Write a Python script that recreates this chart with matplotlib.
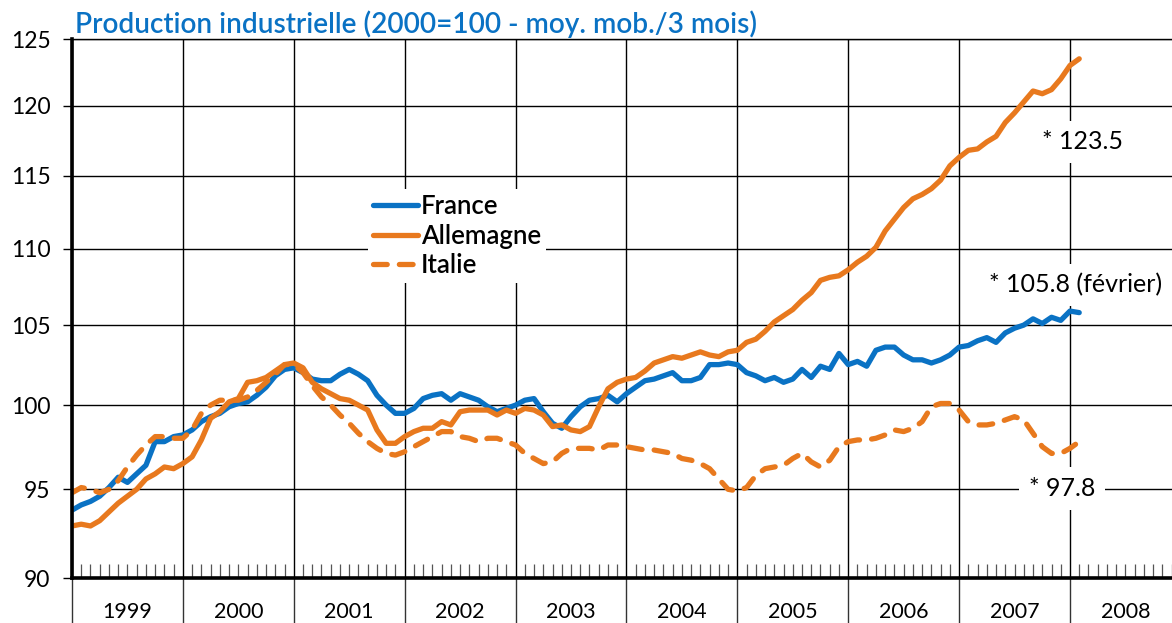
#import libraries
import numpy as np
import matplotlib.pyplot as plt
import matplotlib.transforms as mtransforms
from matplotlib.ticker import FixedLocator, NullLocator, FixedFormatter

plt.rcParams['font.family'] = ['Lato', 'DejaVu Sans']

#monthly data, jan 1999 -> feb 2008 (3 month moving average, 2000=100)
france = [93.8, 94.1, 94.3, 94.6, 95.1, 95.7, 95.4, 95.9, 96.4, 97.8, 97.8, 98.1,
          98.2, 98.5, 99.0, 99.3, 99.5, 99.9, 100.1, 100.2, 100.6, 101.1, 101.8, 102.2,
          102.3, 102.0, 101.6, 101.5, 101.5, 101.9, 102.2, 101.9, 101.5, 100.6, 100.0, 99.5,
          99.5, 99.8, 100.4, 100.6, 100.7, 100.3, 100.7, 100.5, 100.3, 99.9, 99.6, 99.8,
          100.0, 100.3, 100.4, 99.6, 98.9, 98.6, 99.3, 99.9, 100.3, 100.4, 100.6, 100.2,
          100.7, 101.1, 101.5, 101.6, 101.8, 102.0, 101.5, 101.5, 101.7, 102.5, 102.5, 102.6,
          102.5, 102.0, 101.8, 101.5, 101.7, 101.4, 101.6, 102.2, 101.7, 102.4, 102.2, 103.2,
          102.5, 102.7, 102.4, 103.4, 103.6, 103.6, 103.1, 102.8, 102.8, 102.6, 102.8, 103.1,
          103.6, 103.7, 104.0, 104.2, 103.9, 104.5, 104.8, 105.0, 105.4, 105.1, 105.5, 105.3,
          105.9, 105.8]

allemagne = [92.9, 93.0, 92.9, 93.2, 93.7, 94.2, 94.6, 95.0, 95.6, 95.9, 96.3, 96.2,
             96.5, 96.9, 97.9, 99.2, 99.6, 100.2, 100.4, 101.4, 101.5, 101.7, 102.1, 102.5,
             102.6, 102.3, 101.4, 101.0, 100.7, 100.4, 100.3, 100.0, 99.7, 98.5, 97.7, 97.7,
             98.1, 98.4, 98.6, 98.6, 99.0, 98.8, 99.6, 99.7, 99.7, 99.7, 99.4, 99.7,
             99.5, 99.8, 99.7, 99.4, 98.7, 98.8, 98.5, 98.4, 98.7, 99.9, 101.0, 101.4,
             101.6, 101.7, 102.1, 102.6, 102.8, 103.0, 102.9, 103.1, 103.3, 103.1, 103.0, 103.3,
             103.4, 103.9, 104.1, 104.6, 105.2, 105.6, 106.0, 106.6, 107.1, 107.9, 108.1, 108.2,
             108.6, 109.1, 109.5, 110.1, 111.2, 112.0, 112.8, 113.4, 113.7, 114.1, 114.7, 115.7,
             116.3, 116.8, 116.9, 117.4, 117.8, 118.8, 119.5, 120.3, 121.1, 120.9, 121.2, 122.0,
             123.0, 123.5]

italie = [94.8, 95.1, 95.0, 94.8, 95.0, 95.5, 96.3, 97.0, 97.6, 98.1, 98.1, 98.0,
          98.0, 98.5, 99.5, 100.0, 100.3, 100.3, 100.3, 100.5, 100.9, 101.4, 101.9, 102.5,
          102.5, 102.0, 101.2, 100.5, 100.0, 99.4, 98.9, 98.3, 97.8, 97.4, 97.1, 97.0,
          97.2, 97.5, 97.8, 98.1, 98.4, 98.4, 98.1, 98.0, 97.8, 98.0, 98.0, 97.8,
          97.6, 97.1, 96.8, 96.5, 96.6, 97.1, 97.4, 97.4, 97.4, 97.3, 97.6, 97.6,
          97.5, 97.4, 97.3, 97.3, 97.2, 97.1, 96.8, 96.7, 96.5, 96.2, 95.6, 95.0,
          94.9, 95.1, 95.8, 96.2, 96.3, 96.4, 96.8, 97.1, 96.6, 96.3, 96.7, 97.5,
          97.8, 97.9, 97.9, 98.0, 98.2, 98.5, 98.4, 98.6, 99.0, 99.9, 100.1, 100.1,
          99.7, 99.0, 98.8, 98.8, 98.9, 99.1, 99.3, 99.1, 98.3, 97.5, 97.1, 97.1,
          97.4, 97.8]

years = list(range(1999, 2009))
yticks = [90, 95, 100, 105, 110, 115, 120, 125]
title = 'Production industrielle (2000=100 - moy. mob./3 mois)'

BLUE = '#0a72c4'
ORANGE = '#e8791e'

#time axis in decimal years
t = 1999 + np.arange(len(france)) / 12

fig = plt.figure(figsize=(11.72, 6.23), dpi=100)
ax = fig.add_axes([72/1172, 45/623, 1 - 72/1172, 539/623])

ax.plot(t, france, color=BLUE, lw=3.8, solid_capstyle='round', solid_joinstyle='round', label='France')
ax.plot(t, allemagne, color=ORANGE, lw=3.8, solid_capstyle='round', solid_joinstyle='round', label='Allemagne')
ax.plot(t, italie, color=ORANGE, lw=3.8, dashes=(2.6, 2.3), dash_capstyle='round', label='Italie')

#log scale on y
ax.set_yscale('log')
ax.set_ylim(90, 125)
ax.yaxis.set_major_locator(FixedLocator(yticks))
ax.yaxis.set_major_formatter(FixedFormatter([str(v) for v in yticks]))
ax.yaxis.set_minor_locator(NullLocator())
ax.tick_params(axis='y', which='major', direction='out', length=6.5, width=1.0,
               labelsize=16.5, pad=9)

#x axis: year separators + monthly ticks
ax.set_xlim(1999, 2008.92)
ax.xaxis.set_major_locator(FixedLocator(years))
ax.xaxis.set_major_formatter(FixedFormatter([''] * len(years)))
months = [1999 + m / 12 for m in range(120) if m % 12 != 0]
ax.xaxis.set_minor_locator(FixedLocator(months))
ax.tick_params(axis='x', which='major', direction='out', length=33, width=1.0, color='#333333')
ax.tick_params(axis='x', which='minor', direction='in', length=10, width=0.9, color='#555555')

ax.grid(True, which='major', color='black', lw=1.0)

for y in years:
    ax.text(y + 0.5, -0.064, str(y), transform=mtransforms.blended_transform_factory(ax.transData, ax.transAxes),
            ha='center', va='center', fontsize=15.5)

ax.spines['right'].set_visible(False)
ax.spines['top'].set_linewidth(1.0)
ax.spines['left'].set_linewidth(2.6)
ax.spines['bottom'].set_linewidth(2.6)

#end-of-series labels
box = dict(facecolor='white', edgecolor='none', pad=7)
ax.text(2007.745, 117.4, '* 123.5', fontsize=18, va='center', ha='left', bbox=box)
ax.text(2007.27, 107.6, '* 105.8 (février)', fontsize=18, va='center', ha='left', bbox=box)
ax.text(2007.63, 95.05, '* 97.8', fontsize=18, va='center', ha='left', bbox=box)

leg = ax.legend(loc='upper left', bbox_to_anchor=(0.257, 0.745), frameon=True, facecolor='white',
                edgecolor='none', framealpha=1, handlelength=1.75, handletextpad=0.12,
                labelspacing=0.16, borderpad=0.2, prop={'size': 18.5, 'weight': 'semibold'})

fig.text(75/1172, 1 - 33/623, title, color=BLUE, fontsize=20.2, fontweight='semibold', va='baseline', ha='left')

fig.savefig('out.png', dpi=100)
